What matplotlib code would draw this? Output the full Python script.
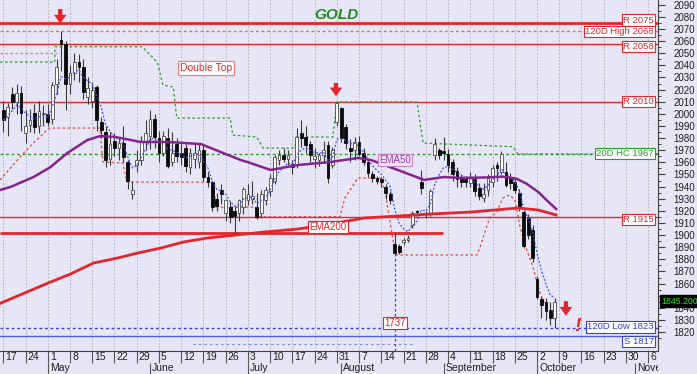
import matplotlib
matplotlib.use('Agg')
import matplotlib.pyplot as plt
import numpy as np
import pandas as pd
from matplotlib.transforms import blended_transform_factory

plt.rcParams['font.family'] = ['Liberation Sans', 'DejaVu Sans']

# ---------------- data ----------------
start_date = '2023-04-17'
n_axis_days = 148

opens = [2003, 1997, 2016, 2010, 2017, 1984, 1991, 2001, 1990, 2000,
         2000, 1996, 2025, 2061, 2058, 2025, 2034, 2043, 2039, 2014,
         2011, 2022, 1993, 1985, 1963, 1978, 1972, 1976, 1960, 1934,
         1958, 1962, 1977, 1982, 1996, 1980, 1968, 1980, 1960, 1975,
         1968, 1972, 1956, 1963, 1960, 1970, 1948, 1944, 1930, 1937,
         1918, 1923, 1920, 1918, 1923, 1929, 1930, 1923, 1918, 1929,
         1936, 1945, 1962, 1966, 1963, 1959, 1959, 1984, 1981, 1975,
         1963, 1962, 1966, 1974, 1958, 1993, 2005, 1989, 1972, 1970,
         1977, 1968, 1960, 1950, 1947, 1946, 1940, 1934, 1893, 1891,
         1894, 1896, 1908, 1920, 1944, 1917, 1918, 1966, 1970, 1969,
         1967, 1960, 1953, 1947, 1946, 1943, 1946, 1939, 1931, 1937,
         1944, 1958, 1952, 1952, 1948, 1944, 1935, 1919, 1914, 1904,
         1864, 1847, 1845, 1838, 1832]
highs = [2011, 2009, 2022, 2025, 2023, 2003, 2004, 2008, 2011, 2007,
         2008, 2026, 2045, 2068, 2060, 2040, 2050, 2049, 2045, 2030,
         2026, 2024, 1997, 1990, 1985, 1984, 1980, 1990, 1962, 1945,
         1970, 1982, 1995, 2003, 2000, 1986, 1986, 1988, 1985, 1980,
         1975, 1975, 1972, 1975, 1975, 1974, 1952, 1945, 1935, 1942,
         1930, 1928, 1924, 1930, 1940, 1942, 1945, 1935, 1937, 1940,
         1950, 1966, 1970, 1972, 1970, 1962, 1988, 1995, 1990, 1978,
         1972, 1968, 1978, 1978, 1973, 2010, 2006, 1992, 1979, 1981,
         1982, 1972, 1962, 1953, 1949, 1948, 1942, 1936, 1902, 1893,
         1898, 1900, 1920, 1921, 1954, 1920, 1938, 1980, 1972, 1981,
         1971, 1963, 1956, 1950, 1949, 1952, 1950, 1943, 1943, 1950,
         1958, 1960, 1969, 1960, 1951, 1947, 1938, 1921, 1917, 1908,
         1866, 1849, 1848, 1845, 1848]
lows = [1985, 1982, 2004, 2000, 1986, 1976, 1985, 1984, 1984, 1990,
        1990, 1992, 2016, 2035, 2003, 2016, 2028, 2026, 2012, 2008,
        2005, 1986, 1980, 1956, 1958, 1965, 1962, 1960, 1938, 1930,
        1952, 1958, 1970, 1971, 1972, 1960, 1965, 1955, 1957, 1960,
        1958, 1952, 1950, 1955, 1955, 1945, 1940, 1920, 1920, 1926,
        1912, 1910, 1900, 1912, 1917, 1925, 1926, 1913, 1914, 1925,
        1932, 1942, 1958, 1960, 1958, 1950, 1955, 1973, 1968, 1960,
        1955, 1957, 1960, 1943, 1955, 1990, 1977, 1971, 1960, 1962,
        1965, 1958, 1948, 1944, 1942, 1940, 1930, 1926, 1884, 1884,
        1892, 1894, 1906, 1916, 1934, 1914, 1916, 1962, 1963, 1962,
        1952, 1945, 1940, 1940, 1940, 1940, 1932, 1929, 1927, 1932,
        1940, 1945, 1950, 1940, 1938, 1935, 1920, 1889, 1897, 1878,
        1847, 1832, 1830, 1826, 1823]
closes = [1995, 2006, 2010, 2017, 2001, 1990, 1995, 1989, 2002, 2001,
          1993, 2024, 2039, 2058, 2025, 2034, 2043, 2039, 2018, 2021,
          2020, 1995, 1987, 1962, 1975, 1972, 1976, 1964, 1945, 1937,
          1962, 1977, 1984, 1996, 1981, 1968, 1982, 1957, 1968, 1965,
          1964, 1957, 1968, 1968, 1970, 1948, 1944, 1923, 1924, 1934,
          1929, 1915, 1916, 1929, 1938, 1934, 1932, 1915, 1934, 1937,
          1947, 1964, 1966, 1963, 1966, 1956, 1981, 1980, 1974, 1966,
          1965, 1966, 1970, 1947, 1970, 2009, 1980, 1976, 1969, 1977,
          1967, 1960, 1951, 1947, 1945, 1944, 1935, 1929, 1885, 1886,
          1896, 1898, 1918, 1919, 1939, 1918, 1936, 1975, 1966, 1968,
          1958, 1950, 1946, 1944, 1944, 1948, 1936, 1932, 1934, 1947,
          1955, 1955, 1967, 1941, 1943, 1937, 1922, 1891, 1900, 1881,
          1849, 1842, 1837, 1832, 1845.2]

# EMA 50 (purple) and EMA 200 (red) (day index, price)
ema50_day = [-0.7, 1.6, 6.8, 10.6, 14.4, 18.9, 21.8, 25.2, 30.9, 36.9, 44.4, 48.9,
             53.4, 55.6, 60.1, 66.2, 73.6, 79.7, 82.7, 88.7, 94.6, 99.1, 102.9,
             108.0, 112.3, 115.4, 117.6, 120.3, 122.1, 124.3]
ema50_val = [1937.2, 1939.7, 1947.9, 1956.1, 1967.7, 1978.4, 1981.7, 1980.9, 1976.8,
             1976.8, 1975.1, 1968.5, 1961.9, 1959.4, 1953.7, 1957.8, 1960.3, 1963.6,
             1961.9, 1953.7, 1945.5, 1947.9, 1947.1, 1947.5, 1948.2, 1946.5, 1942.5,
             1935.5, 1929.0, 1921.5]
ema200_day = [-0.7, 10.1, 15.1, 20.3, 25.7, 30.2, 35.4, 40.5, 45.9, 51.1, 58.6, 66.2,
              73.6, 81.1, 88.7, 96.2, 105.2, 110.4, 115.8, 120.3, 124.3]
ema200_val = [1843.7, 1860.5, 1867.9, 1877.0, 1881.1, 1885.2, 1889.3, 1894.3, 1897.6,
              1899.6, 1902.5, 1905.0, 1909.1, 1914.1, 1915.7, 1917.4, 1919.0, 1920.7,
              1922.3, 1920.7, 1916.6]

# green dotted 20-day highest-close step line
hc_day = [-0.74, 11.6, 11.6, 31.2, 34.6, 35.9, 38.2, 39.0, 51.0, 51.6, 57.0, 58.4,
          65.6, 65.8, 74.1, 75.0, 93.0, 94.4, 114.6, 115.7, 147.2]
hc_val = [2042.7, 2042.7, 2055.4, 2055.4, 2042.7, 2023.8, 2022.1, 1996.5, 1996.5,
          1982.5, 1980.9, 1971.8, 1971.8, 1980.9, 1980.9, 2009.8, 2009.8, 1975.9,
          1972.9, 1966.9, 1966.9]
# red dotted lower envelope line
lo_day = [-0.74, 3.75, 6.7, 8.25, 9.8, 10.5, 21.7, 22.4, 26.9, 27.8, 46.9, 48.0, 56.6,
          57.3, 75.7, 76.8, 79.7, 84.7, 85.8, 87.6, 88.3, 106.5, 107.2, 109.4, 111.0,
          112.3, 113.9, 115.0, 116.2, 117.7, 119.1, 120.0, 120.7, 121.8]
lo_val = [1945.4, 1964.4, 1975.9, 1980.9, 1986.7, 1988.3, 1988.3, 1960.3, 1959.4,
          1943.7, 1943.7, 1923.1, 1923.1, 1915.2, 1915.2, 1930.6, 1947.1, 1947.1,
          1937.2, 1896.0, 1883.6, 1883.6, 1890.2, 1914.9, 1919.0, 1930.6, 1933.0,
          1928.9, 1906.6, 1887.7, 1873.7, 1860.5, 1852.3, 1842.3]
old_high_day = [-0.74, 12.1]
old_high_val = [2050.2, 2050.2]

# horizontal levels
level_vals = [2075, 2068, 2058, 2010, 1967, 1915, 1823, 1817]
level_text = ['R 2075', '120D High 2068', 'R 2058', 'R 2010', '20D HC 1967',
              'R 1915', '120D Low 1823', 'S 1817']
level_label_y = [2077.4, 2068.2, 2055.8, 2010.3, 1967.0, 1913.0, 1824.2, 1812.0]
ema200_flat_val = 1902
ema200_flat_end = 98.9
low_dotted_val = 1810.2
low_dotted_span = [42.6, 92.1]

last_price = '1845.200'
ytick_vals = list(range(1820, 2091, 10))

# ---------------- figure ----------------
W, H = 697, 374
BG = '#E6E6F7'
RED = '#E3262B'
GREEN = '#2E9A2E'
BLUE = '#3340D8'
PURPLE = '#84248E'

fig = plt.figure(figsize=(W / 100, H / 100), dpi=100)
fig.patch.set_facecolor(BG)
ax = fig.add_axes([0, 23 / H, 658 / W, 1 - 23 / H])
ax.set_facecolor(BG)
XL = (-0.742, 147.2)
ax.set_xlim(*XL)
ax.set_ylim(1804.4, 2093.9)

dates = pd.bdate_range(start_date, periods=n_axis_days)
mondays = [i for i, d in enumerate(dates) if d.weekday() == 0]
month_starts = [i for i in range(1, len(dates)) if dates[i].month != dates[i - 1].month]

# grid
for m in mondays:
    ax.axvline(m, color='#A8A8B8', lw=0.6, ls=(0, (2, 2)), zorder=0.5)

# horizontal levels
styles = [dict(color=RED, lw=2.0, ls='-'),
          dict(color='#E46A6A', lw=1.0, ls=(0, (2, 2))),
          dict(color=RED, lw=1.0, ls='-'),
          dict(color=RED, lw=1.0, ls='-'),
          dict(color=GREEN, lw=1.0, ls=(0, (2, 2))),
          dict(color=RED, lw=1.0, ls='-'),
          dict(color=BLUE, lw=1.0, ls=(0, (2, 2))),
          dict(color='#5060E0', lw=1.0, ls='-')]
label_colors = [RED, RED, RED, RED, '#22A022', RED, BLUE, BLUE]
for v, st in zip(level_vals, styles):
    ax.axhline(v, zorder=1, **st)
tr = blended_transform_factory(ax.transAxes, ax.transData)
for t, yv, c in zip(level_text, level_label_y, label_colors):
    ax.text(0.9935, yv, t, transform=tr, ha='right', va='center', fontsize=6.8,
            color=c, zorder=8,
            bbox=dict(boxstyle='square,pad=0.12', fc='white', ec=c, lw=0.8))

ax.hlines(ema200_flat_val, XL[0], ema200_flat_end, color=RED, lw=2.0, zorder=1.2)
ax.hlines(low_dotted_val, low_dotted_span[0], low_dotted_span[1], color='#7080E0',
          lw=0.8, ls=(0, (2, 3)), zorder=1.2)

# envelope lines
ax.plot(hc_day, hc_val, color=GREEN, lw=0.9, ls=(0, (2, 2)), zorder=1.5)
ax.plot(lo_day, lo_val, color='#E04848', lw=0.9, ls=(0, (2, 2)), zorder=1.5)
ax.plot(old_high_day, old_high_val, color='#E87878', lw=0.9, ls=(0, (2, 2)), zorder=1.5)

# candles
x = np.arange(len(closes))
o = np.array(opens, float); c = np.array(closes, float)
h = np.array(highs, float); l = np.array(lows, float)
ax.vlines(x, l, h, color='#3A3A3A', lw=0.8, zorder=3)
up = c >= o
ax.bar(x[up], (c - o)[up], bottom=o[up], width=0.62, color='white',
       edgecolor='#4A4A4A', lw=0.6, zorder=3.2)
ax.bar(x[~up], (o - c)[~up], bottom=c[~up], width=0.62, color='#0A0A0A',
       edgecolor='#0A0A0A', lw=0.6, zorder=3.2)

# fast dotted blue average of closes
fast = pd.Series(closes).ewm(span=5, adjust=False).mean()
ax.plot(x, fast, color='#4050E0', lw=0.9, ls=(0, (1.5, 1.5)), zorder=3.5)

# EMAs
ax.plot(ema50_day, ema50_val, color=PURPLE, lw=1.8, zorder=4)
ax.plot(ema200_day, ema200_val, color=RED, lw=2.0, zorder=4)

# vertical blue dotted from the gap candle
ax.vlines(88, 1804.4, 1884, color=BLUE, lw=0.9, ls=(0, (2, 2)), zorder=2)

# annotations
ax.text(74.8, 2081.5, 'GOLD', color='#1E8C1E', fontsize=11, fontweight='bold',
        fontstyle='italic', ha='center', va='center', zorder=8)
ax.text(45.6, 2037.8, 'Double Top', color=RED, fontsize=7.5, ha='center', va='center',
        zorder=8, bbox=dict(boxstyle='square,pad=0.15', fc='white', ec='#F08080', lw=0.9))
ax.text(88.1, 1962.0, 'EMA50', color='#9A3AA8', fontsize=7, ha='center', va='center',
        zorder=8, bbox=dict(boxstyle='square,pad=0.12', fc='#F3E4F3', ec='#C888C8', lw=0.8))
ax.text(73.0, 1906.7, 'EMA200', color=RED, fontsize=7, ha='center', va='center',
        zorder=8, bbox=dict(boxstyle='square,pad=0.12', fc='white', ec=RED, lw=0.8))
ax.text(88.1, 1827.5, '1737', color=RED, fontsize=7, ha='center', va='center',
        zorder=8, bbox=dict(boxstyle='square,pad=0.12', fc='white', ec=RED, lw=0.8))
ax.text(129.2, 1825.0, '!', color=RED, fontsize=14, fontweight='bold', fontstyle='italic',
        ha='center', va='center', zorder=8)

arrow_pts = [(12.8, 2086.5, 2074.5), (74.8, 2025.5, 2014.5), (126.5, 1845.5, 1833.5)]
for ax_i, y0, y1 in arrow_pts:
    ax.annotate('', xy=(ax_i, y1), xytext=(ax_i, y0), zorder=8,
                arrowprops=dict(arrowstyle='simple,head_width=1.0,head_length=0.7,tail_width=0.35',
                                color=RED, lw=0, mutation_scale=9, shrinkA=0, shrinkB=0))

# axes styling
for s in ['left', 'top']:
    ax.spines[s].set_visible(False)
ax.spines['right'].set_color('#404040')
ax.spines['bottom'].set_color('#404040')
ax.set_xticks([])
ax.yaxis.tick_right()
ax.set_yticks(ytick_vals)
ax.set_yticklabels(['' if v == 1850 else str(v) for v in ytick_vals])
ax.set_yticks(np.arange(1815, 2095, 5), minor=True)
ax.tick_params(axis='y', which='major', length=5, width=0.8, color='#404040', pad=6,
               labelsize=7, labelcolor='#202020')
ax.tick_params(axis='y', which='minor', length=2.5, width=0.7, color='#404040')

fig.text(679.5 / W, 1 - 301 / H, last_price, ha='center', va='center', fontsize=6.3,
         color='#30E030', zorder=10,
         bbox=dict(boxstyle='square,pad=0.12', fc='black', ec='black'))

# date axis
dax = fig.add_axes([0, 0, 658 / W, 23 / H])
dax.set_facecolor(BG)
dax.set_xlim(*XL)
dax.set_ylim(0, 23)
dax.axis('off')
for m in mondays:
    dax.vlines(m, 11.5, 23, color='#555555', lw=0.8)
    dax.text(m + 0.45, 17, str(dates[m].day), fontsize=7.5, ha='left', va='center',
             color='#202020', clip_on=True)
for m in month_starts:
    dax.vlines(m, 0, 11.5, color='#555555', lw=0.8)
    dax.text(m + 0.45, 5.8, dates[m].strftime('%B'), fontsize=7.5, ha='left', va='center',
             color='#202020', clip_on=True)

fig.savefig('out.png', dpi=100, facecolor=BG)
